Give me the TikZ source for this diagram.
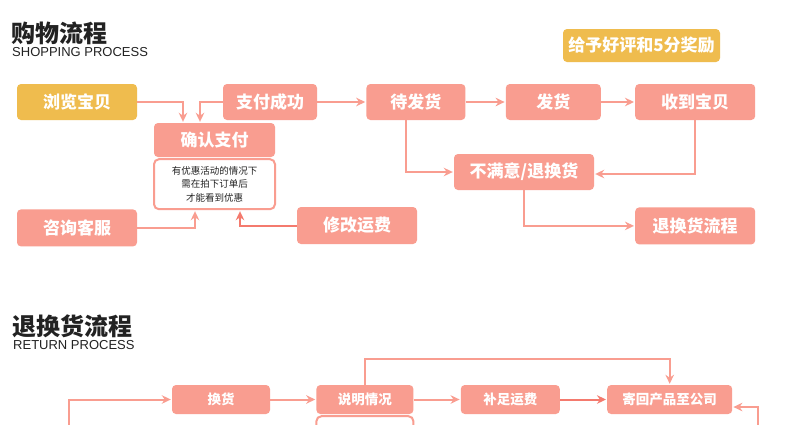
\documentclass[tikz,border=0pt]{standalone}
\usepackage{fontspec}
\setmainfont{Liberation Sans}
\newfontfamily\cjk{Noto Sans CJK SC}
\usetikzlibrary{arrows.meta, positioning}
\definecolor{salmon}{HTML}{F99D90}
\definecolor{gold}{HTML}{EFBC4E}
\definecolor{deepsalmon}{HTML}{F47A6E}
\definecolor{ink}{HTML}{222222}

\begin{document}
\begin{tikzpicture}[
  x=1pt, y=1pt,
  node distance=40pt and 40pt,
  box/.style={rectangle, rounded corners=4pt, fill=salmon, text=white,
              minimum width=120pt, minimum height=36pt,
              font=\cjk\bfseries\fontsize{17}{17}\selectfont, inner sep=0pt},
  gbox/.style={box, fill=gold},
  sbox/.style={box, minimum height=29pt,
               font=\cjk\bfseries\fontsize{13.5}{13.5}\selectfont},
  notebox/.style={rectangle, draw=salmon, line width=2pt, fill=white,
                  rounded corners=5pt, align=center, text=ink,
                  font=\cjk\fontsize{9.5}{13.5}\selectfont},
  flow/.style={draw=salmon, line width=2pt,
               -{Stealth[length=9pt,width=8.5pt]}, shorten >=1pt},
  title/.style={anchor=west, inner sep=0pt, text=ink,
                font=\cjk\bfseries\fontsize{24}{24}\selectfont},
  subtitle/.style={anchor=west, inner sep=0pt, text=ink,
                   font=\fontsize{13}{13}\selectfont}
]
\clip (0,0) rectangle (790,-424);
\fill[white] (0,0) rectangle (790,-424);

% shopping process
\node[title] (shoptitle) at (11,-33) {购物流程};
\node[subtitle] (shopsub) at (12,-52.5) {SHOPPING PROCESS};

\node[gbox] (browse) at (77,-102) {浏览宝贝};
\node[box, minimum width=94pt] (paid) at (270,-102) {支付成功};
\node[box, minimum width=99pt, right=49pt of paid] (waiting) {待发货};
\node[box, minimum width=95pt, right=40pt of waiting] (shipped) {发货};
\node[box, right=34pt of shipped] (received) {收到宝贝};
\node[gbox, minimum width=157pt, minimum height=33pt] (review) at (641.5,-45.5) {给予好评和5分奖励};

\node[box, minimum width=121pt, minimum height=34pt] (confirm) at (214.5,-140) {确认支付};
\node[notebox, minimum width=121pt, minimum height=50pt, below=1pt of confirm] (note)
  {有优惠活动的情况下\\需在拍下订单后\\才能看到优惠};
\node[box, minimum height=37pt, below=89pt of browse] (consult) {咨询客服};
\node[box, minimum height=37pt] (fee) at (357,-225.5) {修改运费};
\node[box, minimum width=140pt] (unhappy) at (524,-172) {不满意/退换货};
\node[box, minimum height=37pt, below=87pt of received] (returns) {退换货流程};

\draw[flow] (browse.east) -| ([xshift=-31.5pt]confirm.north);
\draw[flow] (paid.west) -| ([xshift=-14.5pt]confirm.north);
\draw[flow] (paid) -- (waiting);
\draw[flow] (waiting) -- (shipped);
\draw[flow] (shipped) -- (received);
\draw[flow] ([xshift=-10pt]waiting.south) |- (unhappy.west);
\draw[flow] (received.south) |- ([yshift=-2pt]unhappy.east);
\draw[flow] (unhappy.south) |- (returns.west);
\draw[flow] (consult.east) -| ([xshift=-19.5pt]note.south);
\draw[flow, draw=deepsalmon] (fee.west) -| ([xshift=25.5pt]note.south);

% return process
\node[title] (rettitle) at (12,-326) {退换货流程};
\node[subtitle] (retsub) at (13,-345.5) {RETURN PROCESS};

\node[sbox, minimum width=98pt] (exchange) at (221,-399.5) {换货};
\node[sbox, minimum width=97pt, right=46pt of exchange] (explain) {说明情况};
\node[sbox, minimum width=99pt, right=47pt of explain] (topup) {补足运费};
\node[sbox, minimum width=125pt, right=47pt of topup] (sendback) {寄回产品至公司};
\node[notebox, minimum width=97pt, minimum height=50pt, below=1pt of explain] (explainnote) {};
\coordinate (retin) at (69,-430);
\coordinate (backin) at (758,-430);

\draw[flow] (retin) |- (exchange.west);
\draw[flow] (exchange) -- (explain);
\draw[flow] (explain) -- (topup);
\draw[flow, draw=deepsalmon] (topup) -- (sendback);
\draw[flow] (explain.north) -- ++(0,26) -| (sendback.north);
\draw[flow] (backin) |- ([yshift=-7.5pt]sendback.east);
\end{tikzpicture}
\end{document}
